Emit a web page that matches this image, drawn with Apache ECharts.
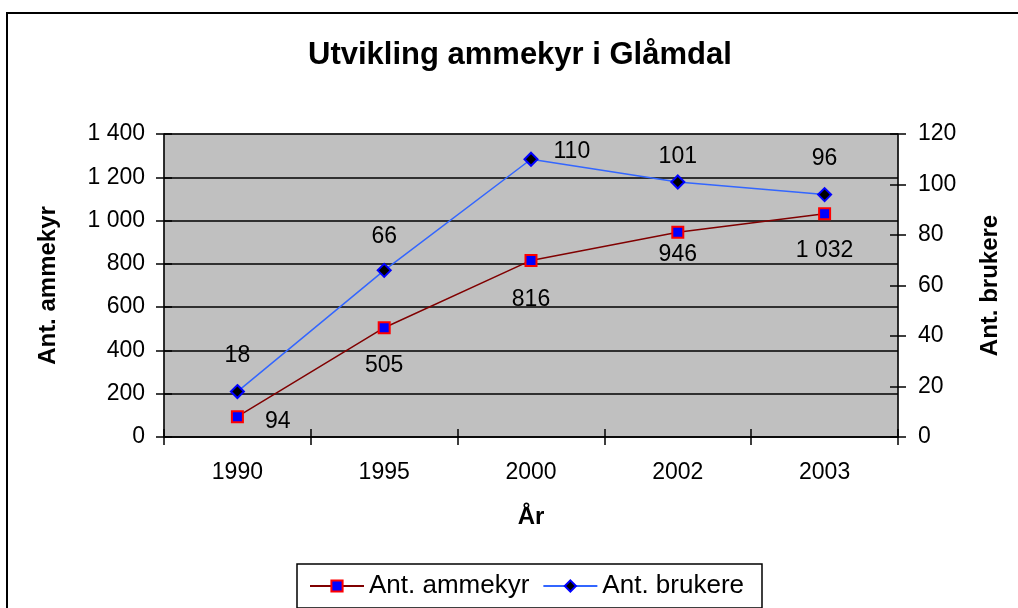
<!DOCTYPE html>
<html>
<head>
<meta charset="utf-8">
<script src="https://cdn.jsdelivr.net/npm/echarts@6/dist/echarts.min.js"></script>
<style>
  html, body { margin: 0; padding: 0; background: #fff; }
  #chart { width: 1018px; height: 608px; }
</style>
</head>
<body>
<div id="chart"></div>
<script>
const years = ['1990', '1995', '2000', '2002', '2003'];
const ammekyr = [94, 505, 816, 946, 1032];
const brukere = [18, 66, 110, 101, 96];
const ammekyrLabelPos = ['right', 'bottom', 'bottom', 'bottom', 'bottom'];
const brukereLabelPos = ['top', 'top', 'right', 'top', 'top'];

const FONT = 'Liberation Sans, Arial, sans-serif';

// "1 400" style thousands separator
const fmt = v => String(v).replace(/\B(?=(\d{3})+(?!\d))/g, ' ');

const chart = echarts.init(document.getElementById('chart'));

const tickStyle = { color: '#000', width: 1.5 };
const labelFont = { color: '#000', fontSize: 23, fontFamily: FONT };
const nameFont = { fontSize: 24, fontWeight: 'bold', color: '#000', fontFamily: FONT };

// label placement tweaks (distance / offset) per point
const ammekyrLabel = [
  { distance: 21, offset: [0, 5] },
  { distance: 20 },
  { distance: 21 },
  { distance: 4 },
  { distance: 19 }
];
const brukereLabel = [
  { distance: 17 },
  { distance: 15 },
  { distance: 15, offset: [0, -8] },
  { distance: 6 },
  { distance: 17 }
];

chart.setOption({
  animation: false,
  textStyle: { fontFamily: FONT },
  graphic: [{
    type: 'rect',
    shape: { x: 7, y: 13, width: 1100, height: 700 },
    style: { fill: 'none', stroke: '#000', lineWidth: 2 },
    silent: true
  }],
  title: {
    text: 'Utvikling ammekyr i Glåmdal',
    left: 303,
    top: 35,
    textStyle: { fontSize: 31, fontWeight: 'bold', color: '#000', fontFamily: FONT }
  },
  legend: {
    bottom: 0,
    left: 297,
    itemWidth: 54,
    itemHeight: 14,
    itemGap: 13,
    padding: [9, 18, 9, 12],
    borderColor: '#000',
    borderWidth: 1.5,
    textStyle: { fontSize: 26, color: '#000', fontFamily: FONT },
    data: ['Ant. ammekyr', 'Ant. brukere']
  },
  grid: {
    left: 164, right: 120, top: 134, bottom: 171,
    show: true,
    backgroundColor: '#C0C0C0',
    borderColor: '#808080',
    borderWidth: 1
  },
  xAxis: [{
    type: 'category',
    data: years,
    boundaryGap: true,
    name: 'År',
    nameLocation: 'middle',
    nameGap: 68,
    nameTextStyle: nameFont,
    axisLine: { show: true, lineStyle: { color: '#000', width: 1.5 } },
    axisTick: { show: true, interval: 0, alignWithLabel: false, length: 8, lineStyle: tickStyle },
    axisLabel: Object.assign({ margin: 24 }, labelFont)
  }, {
    type: 'category',
    data: years,
    boundaryGap: true,
    position: 'bottom',
    axisLine: { show: false },
    axisTick: { show: true, interval: 0, inside: true, length: 8, lineStyle: tickStyle },
    axisLabel: { show: false }
  }],
  yAxis: [{
    type: 'value',
    min: 0, max: 1400, interval: 200,
    name: 'Ant. ammekyr',
    nameLocation: 'middle',
    nameRotate: 90,
    nameGap: 104,
    nameTextStyle: nameFont,
    axisLine: { show: true, lineStyle: { color: '#000', width: 1.5 } },
    axisTick: { show: true, length: 8, lineStyle: tickStyle },
    axisLabel: Object.assign({ margin: 19, formatter: fmt }, labelFont),
    splitLine: { show: true, lineStyle: { color: '#000', width: 1.5 } }
  }, {
    type: 'value',
    position: 'right',
    min: 0, max: 120, interval: 20,
    name: 'Ant. brukere',
    nameLocation: 'middle',
    nameRotate: 90,
    nameGap: 80,
    nameTextStyle: nameFont,
    axisLine: { show: true, lineStyle: { color: '#000', width: 1.5 } },
    axisTick: { show: true, length: 8, lineStyle: tickStyle },
    axisLabel: Object.assign({ margin: 20 }, labelFont),
    splitLine: { show: false }
  }, {
    type: 'value',
    position: 'left',
    min: 0, max: 1400, interval: 200,
    axisLine: { show: false },
    axisTick: { show: true, inside: true, length: 8, lineStyle: tickStyle },
    axisLabel: { show: false },
    splitLine: { show: false }
  }, {
    type: 'value',
    position: 'right',
    min: 0, max: 120, interval: 20,
    axisLine: { show: false },
    axisTick: { show: true, inside: true, length: 8, lineStyle: tickStyle },
    axisLabel: { show: false },
    splitLine: { show: false }
  }],
  series: [{
    name: 'Ant. ammekyr',
    type: 'line',
    yAxisIndex: 0,
    symbol: 'rect',
    symbolSize: 11,
    lineStyle: { color: '#800000', width: 1.5 },
    itemStyle: { color: '#0000FF', borderColor: '#FF0000', borderWidth: 2 },
    data: ammekyr.map((v, i) => ({
      value: v,
      label: Object.assign({ position: ammekyrLabelPos[i] }, ammekyrLabel[i])
    })),
    label: Object.assign({ show: true, formatter: p => fmt(p.value) }, labelFont)
  }, {
    name: 'Ant. brukere',
    type: 'line',
    yAxisIndex: 1,
    symbol: 'diamond',
    symbolSize: 13,
    lineStyle: { color: '#3366FF', width: 1.5 },
    itemStyle: { color: '#000000', borderColor: '#0000FF', borderWidth: 2 },
    data: brukere.map((v, i) => ({
      value: v,
      label: Object.assign({ position: brukereLabelPos[i] }, brukereLabel[i])
    })),
    label: Object.assign({ show: true }, labelFont)
  }]
});
</script>
</body>
</html>
